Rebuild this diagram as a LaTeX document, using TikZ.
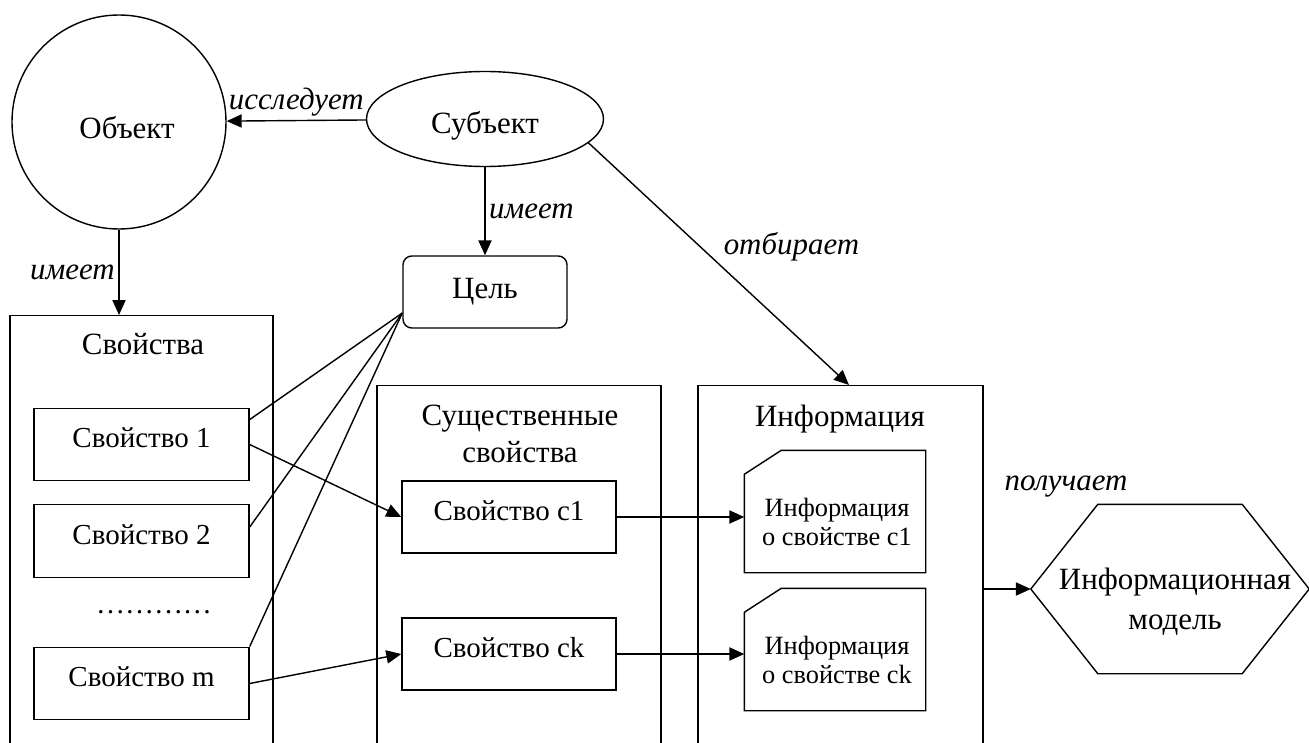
\documentclass[tikz,border=0pt]{standalone}
\usepackage{fontspec}
\setmainfont{Liberation Serif}
\usepackage{tikz}
\usetikzlibrary{positioning,arrows.meta,calc,shapes.geometric}

\newcommand\bigsz{\fontsize{17.6}{21.6}\selectfont}
\newcommand\midsz{\fontsize{16.5}{20}\selectfont}
\newcommand\docsz{\fontsize{15}{17}\selectfont}

\tikzset{
  >={Triangle[length=8.5pt,width=7.5pt]},
  bigbox/.style={draw, rectangle, anchor=north, minimum width=#1, minimum height=90mm},
  propbox/.style={draw, rectangle, minimum width=43mm, minimum height=14.5mm,
    text depth=2.6mm, font=\midsz},
  docbox/.style={rectangle, minimum width=36mm, minimum height=24.2mm},
  doctext/.style={font=\docsz, align=center, inner sep=0pt},
  boxtitle/.style={font=\bigsz, align=center, inner sep=0pt},
  relation/.style={font=\bigsz\itshape, inner sep=2pt},
}

\begin{document}
\begin{tikzpicture}[x=0.2mm,y=0.2mm,line width=0.8pt,font=\bigsz]

  \clip (0,0) rectangle (1309,-743);

  \node[circle, draw, minimum size=42.8mm, inner sep=0pt,
    label={[boxtitle, name=objt, xshift=1.6mm, yshift=-1.2mm]center:Объект}] (obj) at (119,-122) {};
  \node[ellipse, draw, minimum width=47.4mm, minimum height=19mm, inner sep=0pt,
    label={[boxtitle, name=subjt, yshift=-1.4mm]center:Субъект}] (subj) at (485,-119) {};
  \node[draw, rounded corners=5pt, minimum width=32.8mm, minimum height=14.4mm] (goal) at (485,-292) {Цель};
  \coordinate (goalin) at ([yshift=-4.2mm]goal.west);

  % big boxes
  \node[bigbox=52.6mm] (props) at (141.5,-315) {};
  \node[bigbox=56.8mm] (ess) at (519,-385) {};
  \node[bigbox=57mm] (info) at (840.5,-385) {};

  \node[boxtitle, anchor=base] (propst) at (143,-355) {Свойства};
  \node[boxtitle] (esst) at (520,-434) {Существенные\\[-1pt]свойства};
  \node[boxtitle, anchor=base] (infot) at (840,-426) {Информация};

  % properties
  \node[propbox] (p1) at (141.5,-444.5) {Свойство 1};
  \node[propbox] (p2) at (141.5,-541) {Свойство 2};
  \node[font=\midsz, anchor=base, inner sep=0pt] (dots) at (154,-613) {…………};
  \node[propbox] (pm) at (141.5,-683.5) {Свойство m};

  \node[propbox, minimum width=42.8mm, minimum height=14.4mm] (c1) at (509,-517) {Свойство c1};
  \node[propbox, minimum width=42.8mm, minimum height=14.4mm] (ck) at (509,-654) {Свойство ck};

  % information documents
  \node[docbox, label={[doctext, name=ic1t, yshift=-2.1mm, xshift=0.4mm]center:Информация\\о свойстве c1}] (ic1) at (835,-511.5) {};
  \node[docbox, label={[doctext, name=ickt, yshift=-2.1mm, xshift=0.4mm]center:Информация\\о свойстве ck}] (ick) at (835,-649.5) {};
  \foreach \d in {ic1,ick}
    \draw ($(\d.north west)+(0,-24)$) -- ++(37,24) -- (\d.north east) -- (\d.south east) -- (\d.south west) -- cycle;

  % model
  \node[rectangle, minimum width=55.4mm, minimum height=33.6mm,
    label={[boxtitle, name=modelt, xshift=1mm, yshift=-2.6mm]center:Информационная\\[1pt]модель}] (model) at (1170,-589) {};
  \draw (model.west) -- ($(model.north west)+(67,0)$) -- ($(model.north east)+(-67,0)$)
    -- (model.east) -- ($(model.south east)+(-67,0)$) -- ($(model.south west)+(67,0)$) -- cycle;

  \node[relation] (gets) at (1066,-487) {получает};

  % connectors
  \path[->] (subj) edge node[above, relation] (explores) {исследует} (obj);
  \path[->] (subj) edge node[right, relation] (hasgoal) {имеет} (goal);
  \path[->] (obj.south) edge node[left, relation] (hasprops) {имеет} (obj.south |- props.north);
  \path[->] (subj.-13) edge node[right, pos=0.43, relation, inner sep=6pt, xshift=2.4mm] (selects) {отбирает} ([xshift=1.7mm]info.north);

  \foreach \p/\d in {p1/12, p2/23, pm/0}
    \draw ($(\p.north east)+(0,-\d)$) -- (goalin);

  \path[->] (p1.east) edge (c1.west);
  \path[->] (pm.east) edge (ck.west);
  \path[->] (c1.east) edge (c1.east -| ic1.west);
  \path[->] (ck.east) edge (ck.east -| ick.west);
  \path[->] (info.east |- model.west) edge (model.west);

\end{tikzpicture}
\end{document}
